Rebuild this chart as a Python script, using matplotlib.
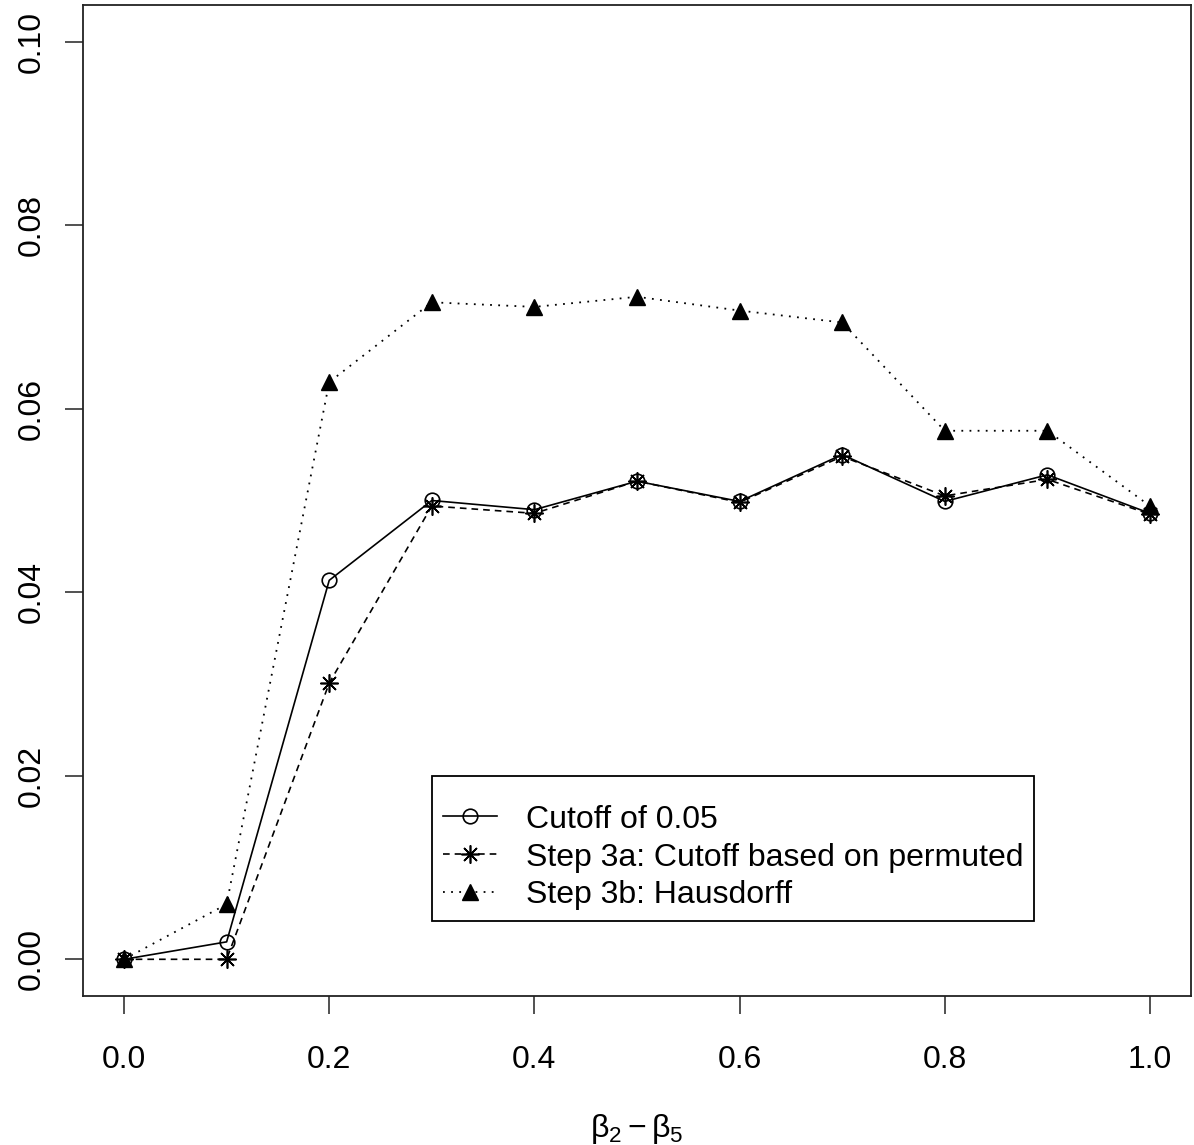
import matplotlib
matplotlib.use("Agg")
import matplotlib.pyplot as plt

plt.rcParams['font.family'] = ['Liberation Sans', 'DejaVu Sans']
plt.rcParams['mathtext.fontset'] = 'custom'
plt.rcParams['mathtext.rm'] = 'Liberation Sans'
plt.rcParams['mathtext.it'] = 'Liberation Sans'

# datos
beta = [0.0, 0.1, 0.2, 0.3, 0.4, 0.5, 0.6, 0.7, 0.8, 0.9, 1.0]
cutoff_005 = [0.0, 0.0019, 0.0413, 0.0500, 0.0490, 0.0521, 0.0499, 0.0550, 0.0499, 0.0528, 0.0486]
step3a = [0.0, 0.0, 0.0301, 0.0494, 0.0486, 0.0521, 0.0498, 0.0548, 0.0505, 0.0523, 0.0485]
step3b = [0.0, 0.0060, 0.0629, 0.0716, 0.0711, 0.0722, 0.0707, 0.0694, 0.0576, 0.0576, 0.0494]

W, H = 1194, 1145
fig = plt.figure(figsize=(W / 100, H / 100), dpi=100)
ax = fig.add_axes([83 / W, 1 - 996 / H, (1191 - 83) / W, (996 - 5) / H])

ax.plot(beta, cutoff_005, color='black', linestyle='-', linewidth=1.2,
        marker='o', markersize=10.5, markerfacecolor='none', markeredgewidth=1.2,
        label='Cutoff of 0.05')
ax.plot(beta, step3a, color='black', linestyle=(0, (4, 3)), linewidth=1.2,
        marker=(8, 2, 0), markersize=13, markeredgewidth=1.2,
        label='Step 3a: Cutoff based on permuted')
ax.plot(beta, step3b, color='black', linestyle=(0, (1, 3.5)), linewidth=1.3,
        marker='^', markersize=11, markerfacecolor='black',
        label='Step 3b: Hausdorff')

ax.set_xlim(-0.04, 1.04)
ax.set_ylim(-0.004, 0.104)
ax.set_xticks([0.0, 0.2, 0.4, 0.6, 0.8, 1.0])
ax.set_xticklabels(['0.0', '0.2', '0.4', '0.6', '0.8', '1.0'])
ax.set_yticks([0.0, 0.02, 0.04, 0.06, 0.08, 0.10])
ax.set_yticklabels(['0.00', '0.02', '0.04', '0.06', '0.08', '0.10'],
                   rotation=90, va='center')
ax.tick_params(axis='both', direction='out', length=13, width=1.1,
               labelsize=23, color='#222222')
ax.tick_params(axis='x', pad=22)
ax.tick_params(axis='y', pad=13)
for s in ax.spines.values():
    s.set_linewidth(1.3)
    s.set_color('#222222')

ax.set_xlabel(r'$\beta_2 - \beta_5$', fontsize=23, labelpad=27)

# titulo vacio para bajar un poco las filas dentro del recuadro
leg = ax.legend(loc='upper left', bbox_to_anchor=(432 / W, 1 - 776 / H),
                bbox_transform=fig.transFigure, borderaxespad=0,
                fontsize=23, frameon=True, fancybox=False, edgecolor='black',
                handlelength=1.69, handletextpad=0.93, labelspacing=0.25,
                borderpad=0.33, framealpha=1, title=' ', title_fontsize=7)
leg.get_frame().set_linewidth(1.3)

plt.savefig('out.png', dpi=100)
